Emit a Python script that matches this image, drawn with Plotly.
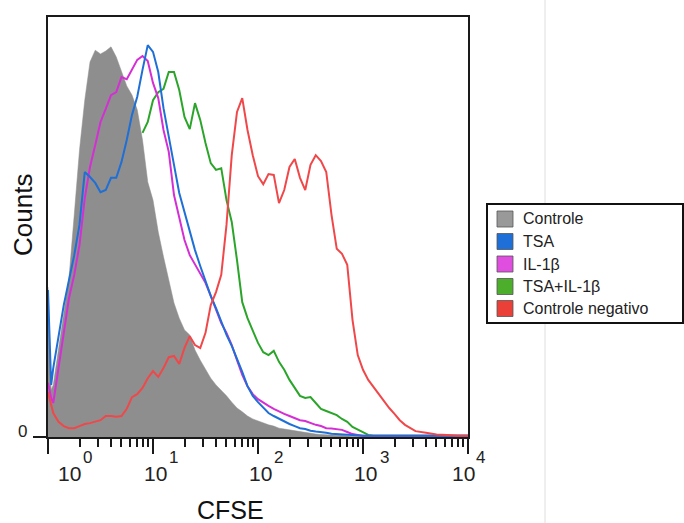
import plotly.graph_objects as go

# CFSE channel positions (shared histogram grid)
cfse = [1, 1.072, 1.122, 1.259, 1.413, 1.585, 1.778, 1.995, 2.239, 2.512, 2.818,
        3.162, 3.548, 3.981, 4.467, 5.012, 5.623, 6.310, 7.079, 7.943, 8.913,
        10, 11.22, 12.59, 14.13, 15.85, 17.78, 19.95, 22.39, 25.12, 28.18,
        31.62, 35.48, 39.81, 44.67, 50.12, 56.23, 63.10, 70.79, 79.43, 89.13,
        100, 112.2, 125.9, 141.3, 158.5, 177.8, 199.5, 223.9, 251.2, 281.8,
        316.2, 354.8, 398.1, 446.7, 501.2, 562.3, 631.0, 707.9, 794.3, 891.3,
        1000, 1122, 1259, 1413, 1585, 1778, 1995, 2239, 2512, 2818, 3162,
        3981, 5012, 6310, 7943, 10000]

controle = [35.7, 11.2, 12.4, 20.7, 29.0, 37.9, 52.9, 68.3, 80.2, 89.3, 92.1,
            91.2, 91.9, 92.9, 90.5, 86.9, 83.6, 81.4, 77.9, 70.7, 60.7,
            56.4, 48.8, 42.9, 37.4, 31.9, 28.3, 25.5, 24.3, 20.7, 18.3,
            16.0, 14.0, 12.4, 11.2, 9.8, 8.3, 6.9, 6.0, 5.0, 4.3,
            3.8, 3.3, 2.9, 2.6, 2.1, 1.9, 1.7, 1.4, 1.2, 1.0,
            0.8, 0.7, 0.6, 0.5, 0.5, 0.4, 0.4, 0.2, 0.1, 0.1,
            0.1, 0, 0, 0, 0, 0, 0, 0, 0, 0, 0,
            0, 0, 0, 0, 0]

tsa = [35.0, 12.4, 16.4, 24.3, 31.4, 37.4, 43.3, 50.5, 63.1, 61.9, 60.5,
       58.3, 58.8, 61.7, 61.7, 65.5, 70.7, 76.7, 81.0, 87.4, 93.3,
       91.7, 86.9, 78.3, 71.2, 64.8, 58.1, 53.6, 48.8, 44.5, 40.7,
       36.9, 33.6, 30.7, 27.4, 24.3, 21.7, 18.8, 15.5, 12.1, 9.8,
       8.3, 6.9, 5.7, 5.0, 4.3, 3.6, 3.1, 2.6, 2.1, 1.9,
       1.5, 1.3, 1.2, 1.0, 0.8, 0.7, 0.6, 0.5, 0.4, 0.3,
       0.3, 0.3, 0.3, 0.3, 0.3, 0.3, 0.3, 0.3, 0.3, 0.3, 0.3,
       0.3, 0.3, 0.3, 0.3, 0.3]

il1b = [12.9, 9.3, 8.1, 16.4, 25.0, 33.1, 38.6, 45.7, 56.9, 64.3, 69.5,
        75.0, 78.1, 81.4, 82.1, 85.7, 85.2, 87.4, 89.8, 90.7, 89.5,
        84.3, 80.7, 73.1, 67.9, 57.6, 52.1, 46.9, 43.3, 41.0, 39.0,
        36.7, 33.6, 30.2, 27.1, 24.8, 21.9, 18.3, 14.8, 12.1, 10.2,
        9.0, 8.1, 7.4, 6.7, 6.0, 5.5, 5.0, 4.5, 4.0, 3.8,
        3.3, 2.9, 2.6, 2.1, 2.0, 1.9, 1.7, 1.2, 0.7, 0.5,
        0.3, 0.3, 0.3, 0.3, 0.3, 0.3, 0.3, 0.3, 0.3, 0.3, 0.3,
        0.3, 0.3, 0.3, 0.3, 0.3]

tsa_il1b = [None, None, None, None, None, None, None, None, None, None, None,
            None, None, None, None, None, None, None, None, 72.4, 75.0,
            80.2, 82.1, 82.9, 86.9, 86.9, 82.6, 76.2, 73.3, 79.5, 75.5,
            70.0, 65.2, 63.6, 64.0, 56.4, 51.2, 42.1, 32.1, 28.3, 25.5,
            22.4, 20.2, 19.5, 20.5, 17.9, 16.0, 13.6, 11.7, 9.8, 9.3,
            9.5, 8.1, 6.7, 6.2, 5.7, 5.2, 4.3, 3.6, 2.4, 1.7,
            1.0, 0.5, 0.3, 0.3, 0.3, 0.3, 0.3, 0.3, 0.3, 0.3, 0.3,
            0.3, 0.3, 0.3, 0.3, 0.3]

controle_neg = [10.7, 7.6, 5.7, 3.6, 2.6, 2.1, 2.1, 2.6, 3.1, 3.3, 3.6,
                4.0, 5.0, 5.0, 4.8, 5.0, 6.7, 9.5, 10.2, 11.7, 14.0,
                15.7, 14.3, 16.4, 19.0, 19.3, 17.4, 21.2, 24.0, 21.9, 21.2,
                24.8, 31.4, 34.5, 38.6, 50.5, 67.1, 77.4, 80.7, 73.1, 67.1,
                62.1, 60.2, 62.6, 62.4, 55.7, 58.8, 64.3, 66.2, 61.7, 58.8,
                64.8, 67.1, 65.7, 63.1, 52.9, 44.8, 43.6, 41.0, 27.9, 19.5,
                16.0, 13.6, 11.9, 10.0, 8.3, 6.9, 5.5, 4.0, 2.9, 2.1, 1.4,
                1.0, 0.6, 0.5, 0.3, 0.3]

legend_labels = ["Controle", "TSA", "IL-1\u03b2", "TSA+IL-1\u03b2", "Controle negativo"]
legend_colors = ["#999999", "#1f6fd8", "#e04ee0", "#4cae2a", "#ea4038"]

x_tick_exponents = ["0", "1", "2", "3", "4"]

FONT = "Liberation Sans, Arial, sans-serif"

# geometry helpers (pixel -> paper), plot area 48..468 x 17..437
L, T, W, H = 48, 17, 420, 420
def px(x):
    return (x - L) / W
def py(y):
    return (T + H - y) / H

fig = go.Figure()

fig.add_trace(go.Scatter(x=cfse, y=tsa_il1b, mode="lines",
                         line=dict(color="#2aa52a", width=2), name="TSA+IL-1\u03b2",
                         connectgaps=False))
fig.add_trace(go.Scatter(x=cfse, y=controle, mode="lines", fill="tozeroy",
                         fillcolor="#8e8e8e", line=dict(color="#8e8e8e", width=0.5),
                         name="Controle"))
fig.add_trace(go.Scatter(x=cfse, y=il1b, mode="lines",
                         line=dict(color="#d42fd4", width=2), name="IL-1\u03b2"))
fig.add_trace(go.Scatter(x=cfse, y=tsa, mode="lines",
                         line=dict(color="#1e6fd6", width=2), name="TSA"))
fig.add_trace(go.Scatter(x=cfse, y=controle_neg, mode="lines",
                         line=dict(color="#f0484a", width=2), name="Controle negativo"))

shapes = []
annotations = []

# thin page separator line
shapes.append(dict(type="line", xref="paper", yref="paper",
                   x0=px(545), x1=px(545), y0=py(523), y1=py(0),
                   line=dict(color="#dedede", width=1), layer="below"))

# legend box
shapes.append(dict(type="rect", xref="paper", yref="paper",
                   x0=px(487), x1=px(683), y0=py(323), y1=py(204),
                   line=dict(color="#111111", width=2), fillcolor="white"))
row_centers = [219, 241.5, 264, 286.5, 308.5]
for lab, col, cy in zip(legend_labels, legend_colors, row_centers):
    shapes.append(dict(type="rect", xref="paper", yref="paper",
                       x0=px(497), x1=px(513), y0=py(cy + 8), y1=py(cy - 8),
                       line=dict(color="#555555", width=0.8), fillcolor=col))
    annotations.append(dict(xref="paper", yref="paper", x=px(521), y=py(cy),
                            xanchor="left", yanchor="middle", showarrow=False,
                            text=lab, font=dict(family=FONT, size=16, color="#222222")))

# x tick labels 10^n
base_centers = [69.5, 155, 260, 365, 463]
sup_centers = [87.5, 173.5, 278, 384, 481]
for e, bx, sx in zip(x_tick_exponents, base_centers, sup_centers):
    annotations.append(dict(xref="paper", yref="paper", x=px(bx), y=py(474),
                            xanchor="center", yanchor="middle", showarrow=False,
                            text="10", font=dict(family=FONT, size=21, color="#222222")))
    annotations.append(dict(xref="paper", yref="paper", x=px(sx), y=py(457),
                            xanchor="center", yanchor="middle", showarrow=False,
                            text=e, font=dict(family=FONT, size=17, color="#222222")))

# y tick label "0"
annotations.append(dict(xref="paper", yref="paper", x=px(22), y=py(431),
                        xanchor="center", yanchor="middle", showarrow=False,
                        text="0", font=dict(family=FONT, size=17, color="#222222")))

# axis titles
annotations.append(dict(xref="paper", yref="paper", x=px(230), y=py(510),
                        xanchor="center", yanchor="middle", showarrow=False,
                        text="CFSE", font=dict(family=FONT, size=25, color="#111111")))
annotations.append(dict(xref="paper", yref="paper", x=px(23), y=py(215),
                        xanchor="center", yanchor="middle", showarrow=False, textangle=-90,
                        text="Counts", font=dict(family=FONT, size=26, color="#111111")))

fig.update_layout(
    width=684, height=523,
    margin=dict(l=L, r=684 - L - W, t=T, b=523 - T - H),
    paper_bgcolor="white", plot_bgcolor="white",
    showlegend=False,
    shapes=shapes, annotations=annotations,
    xaxis=dict(type="log", range=[0, 4], dtick=1, showgrid=False, zeroline=False,
               showline=True, mirror=True, linecolor="#1a1a1a", linewidth=2,
               ticks="outside", ticklen=15, tickwidth=2, tickcolor="#1a1a1a",
               showticklabels=False,
               minor=dict(ticks="outside", ticklen=8, tickwidth=1.5, dtick="D1",
                          tickcolor="#1a1a1a", showgrid=False)),
    yaxis=dict(range=[0, 100], showgrid=False, zeroline=False,
               showline=True, mirror=True, linecolor="#1a1a1a", linewidth=2,
               tickvals=[0], ticks="outside", ticklen=13, tickwidth=1.5,
               tickcolor="#1a1a1a", showticklabels=False),
)

fig.write_html("out.html")
